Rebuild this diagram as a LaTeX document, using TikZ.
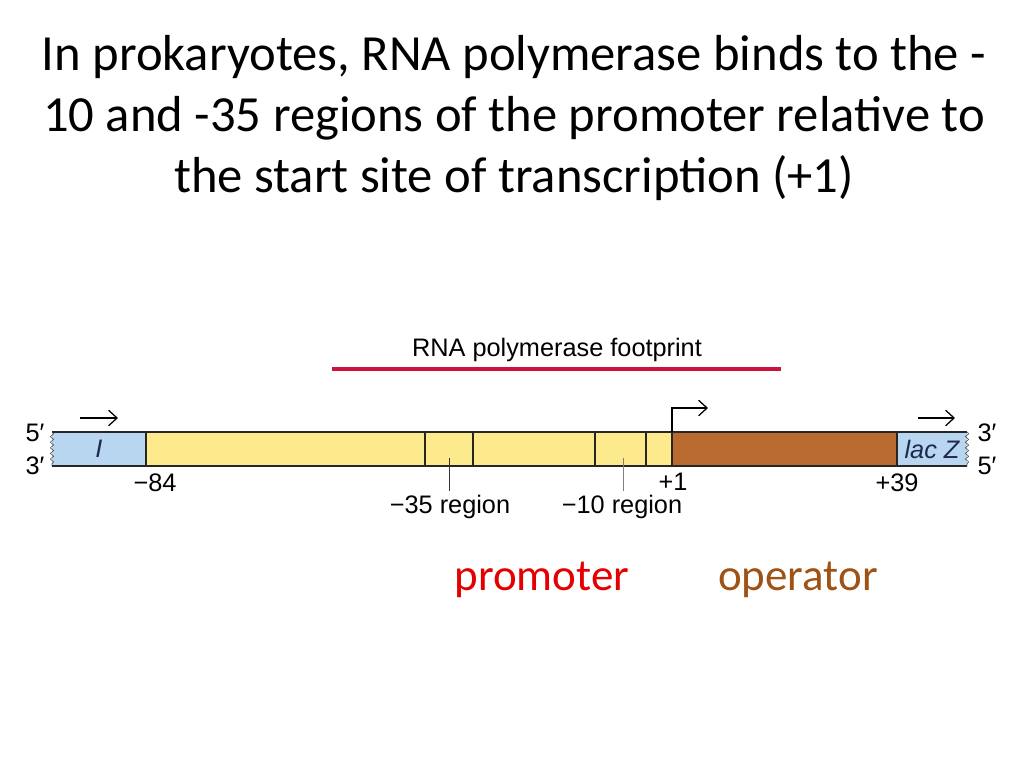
\documentclass[tikz,border=0pt]{standalone}
\usepackage{fontspec}
\setmainfont{Carlito}
\newfontfamily\helv{Liberation Sans}
\usetikzlibrary{arrows.meta,decorations.pathmorphing}
\definecolor{geneblue}{RGB}{184,214,240}
\definecolor{promyellow}{RGB}{253,234,140}
\definecolor{opbrown}{RGB}{184,106,48}
\definecolor{footred}{RGB}{204,18,60}
\definecolor{labred}{RGB}{228,0,0}
\definecolor{labbrown}{RGB}{160,82,20}
\definecolor{genetext}{RGB}{30,40,80}

\begin{document}
\begin{tikzpicture}[x=0.025cm, y=-0.025cm, >={Straight Barb[length=6pt,width=11pt]},
  lbl/.style={font=\helv\fontsize{18}{20}\selectfont, inner sep=0pt},
  big/.style={font=\fontsize{32}{38}\selectfont, inner sep=0pt},
  edge/.style={draw=black!85, line width=0.8pt}]
\useasboundingbox (0,0) rectangle (1024,768);
% title
\node[align=center, font=\fontsize{36}{43.5}\selectfont, inner sep=0pt] (title) at (514,118)
 {In prokaryotes, RNA polymerase binds to the -\\
  10 and -35 regions of the promoter relative to\\
  the start site of transcription (+1)};
% footprint
\node[lbl] (fp) at (557,350) {RNA polymerase footprint};
\draw[footred, line width=3.5pt] (332,369) -- (781,369);
% segments of the DNA
\fill[geneblue] (52,432) rectangle (146,466);
\fill[promyellow] (146,432) rectangle (672,466);
\fill[opbrown] (672,432) rectangle (897,466);
\fill[geneblue] (897,432) rectangle (967,466);
\draw[edge] (52,432) -- (967,432) (52,466) -- (967,466);
\foreach \x in {146,425,473,595,646,672,897}{
  \draw[edge] (\x,432) -- (\x,466);
}
\draw[black!70, decorate, decoration={snake, amplitude=1.2pt, segment length=4pt}] (52,432) -- (52,466);
\draw[black!70, decorate, decoration={snake, amplitude=1.2pt, segment length=4pt}] (967,432) -- (967,466);
\node[lbl, font=\helv\itshape\fontsize{18}{20}\selectfont, text=genetext] (geneI) at (99,449) {I};
\node[lbl, font=\helv\itshape\fontsize{18}{20}\selectfont, text=genetext] (lacZ) at (932,449) {lac Z};
% strand ends
\node[lbl] (l5) at (35,433) {5′};
\node[lbl] (l3) at (35,466) {3′};
\node[lbl] (r3) at (987,433) {3′};
\node[lbl] (r5) at (987,466) {5′};
% direction of genes
\draw[->, line width=0.9pt] (80,418) -- (118,418);
\draw[->, line width=0.9pt] (918,418) -- (955,418);
\draw[->, line width=0.9pt] (672,432) -- (672,408) -- (708,408);
% positions
\node[lbl] (m84) at (155,483) {−84};
\node[lbl] (p1) at (673,482) {+1};
\node[lbl] (p39) at (897,483) {+39};
\node[lbl] (r35) at (450,507) {−35 region};
\node[lbl] (r10) at (622,507) {−10 region};
\coordinate (c35) at (449,458);
\coordinate (c10) at (623,458);
\draw[black!80] (c35) -- ([yshift=3pt]c35 |- r35.north);
\draw[black!50] (c10) -- ([yshift=3pt]c10 |- r10.north);
% promoter and operator
\node[big, text=labred] (prom) at (542,580) {promoter};
\node[big, text=labbrown] (oper) at (798,580) {operator};
\end{tikzpicture}
\end{document}
